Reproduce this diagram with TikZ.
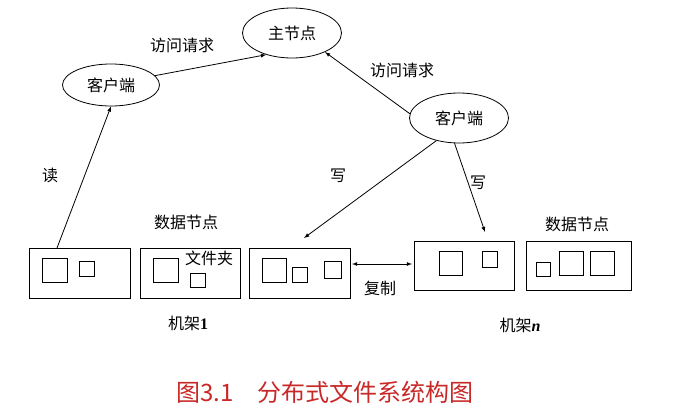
\documentclass[tikz,border=0pt]{standalone}
\usepackage{fontspec}
\setmainfont{Liberation Serif}
\newfontfamily\cjk{Noto Sans CJK SC}
\usepackage{tikz}
\usetikzlibrary{shapes.geometric}
\definecolor{captionred}{RGB}{200,40,40}

\tikzset{
  client/.style={draw, ellipse, minimum width=97pt, minimum height=42pt, font=\cjk\fontsize{16}{16}\selectfont},
  rack/.style={draw, line width=1pt, anchor=north west},
  file/.style={draw, line width=1pt},
  lbl/.style={font=\cjk\fontsize{16}{16}\selectfont},
  link/.style={-latex, line width=0.8pt}
}

\begin{document}
\begin{tikzpicture}[x=1pt, y=-1pt, line width=0.8pt]
    \useasboundingbox (0,0) rectangle (698,415);

    % clients and master
    \node[client] (clientA) at (111,85) {客户端};
    \node[client, minimum width=99pt, minimum height=50pt] (master) at (292,33) {主节点};
    \node[client, minimum width=99pt, minimum height=50pt] (clientB) at (459,118) {客户端};

    % data node boxes
    \draw[rack] (29,248) rectangle (130,298);
    \draw[rack] (140,248) rectangle (240,298);
    \draw[rack] (249,248) rectangle (350,298);
    \draw[rack] (414,241) rectangle (514,290);
    \draw[rack] (526,241) rectangle (631,290);
    \coordinate (rackA) at (57,248);
    \coordinate (rackC) at (304,238);
    \coordinate (rackCr) at (352,264);
    \coordinate (rackD) at (485,232);
    \coordinate (rackDl) at (412,264);

    % files
    \draw[file] (42,258) rectangle (67,282);
    \draw[file] (79,261) rectangle (94,276);
    \draw[file] (153,258) rectangle (178,282);
    \draw[file] (190,273) rectangle (205,287);
    \draw[file] (262,258) rectangle (286,282);
    \draw[file] (292,267) rectangle (307,282);
    \draw[file] (324,261) rectangle (341,278);
    \draw[file] (439,251) rectangle (462,275);
    \draw[file] (482,251) rectangle (497,267);
    \draw[file] (536,262) rectangle (550,276);
    \draw[file] (559,251) rectangle (583,275);
    \draw[file] (590,251) rectangle (614,275);

    % connectors
    \draw[link] (rackA) -- (clientA.270);
    \draw[link] (clientA.12) -- (master.220);
    \draw[link] (clientB.175) -- (master.330);
    \draw[link] (clientB.225) -- (rackC);
    \draw[link] (clientB.260) -- (rackD);
    \draw[latex-latex] (rackCr) -- (rackDl);

    % labels
    \node[lbl] (reqA) at (182,45) {访问请求};
    \node[lbl] (reqB) at (402,70) {访问请求};
    \node[lbl] (read) at (50,175) {读};
    \node[lbl] (writeA) at (338,176) {写};
    \node[lbl] (writeB) at (478,183) {写};
    \node[lbl] (dnA) at (186,222) {数据节点};
    \node[lbl] (dnB) at (577,224) {数据节点};
    \node[lbl] (folder) at (209,258) {文件夹};
    \node[lbl] (copy) at (380,288) {复制};
    \node[lbl] (rack1) at (188,323) {机架{\rmfamily\bfseries 1}};
    \node[lbl] (rackn) at (520,325) {机架{\rmfamily\bfseries\itshape n}};
    \node[font=\cjk\fontsize{24}{24}\selectfont, text=captionred] (caption) at (325,392) {图3.1\quad 分布式文件系统构图};
\end{tikzpicture}
\end{document}
